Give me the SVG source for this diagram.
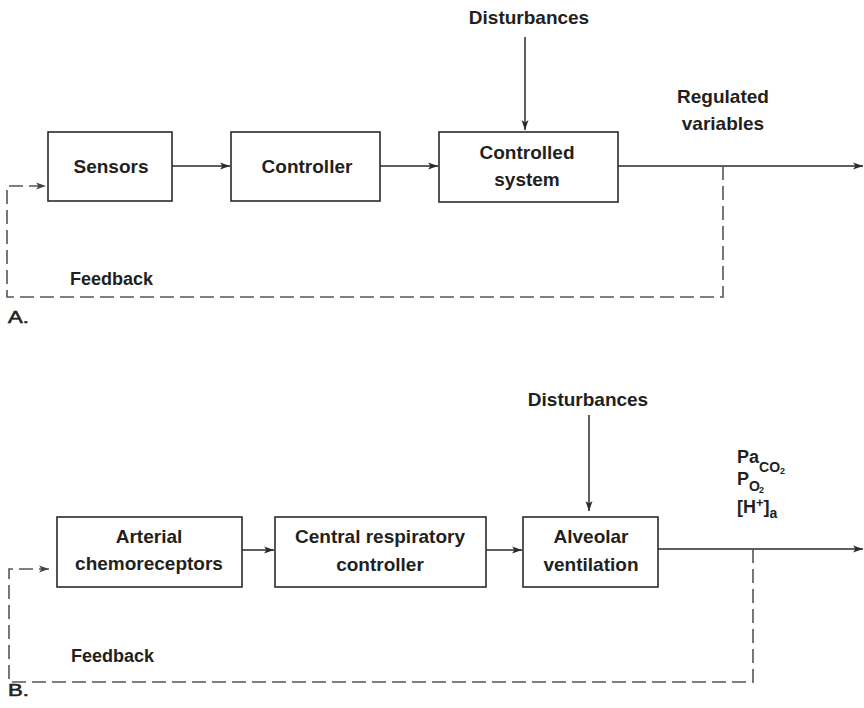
<svg xmlns="http://www.w3.org/2000/svg" width="864" height="708" viewBox="0 0 864 708">
<style>
  .box{fill:#fff;stroke:#2a2a2a;stroke-width:1.6}
  .t{font-family:"Liberation Sans",Arial,sans-serif;font-weight:bold;font-size:19px;fill:#231f20;text-anchor:middle}
  .tl{font-family:"Liberation Sans",Arial,sans-serif;font-weight:bold;font-size:18px;fill:#231f20}
  .pl{font-family:"Liberation Sans",Arial,sans-serif;font-weight:normal;font-size:17px;fill:#231f20;stroke:#231f20;stroke-width:0.6}
  .ln{fill:none;stroke:#2a2a2a;stroke-width:1.5}
  .fb{fill:none;stroke:#555;stroke-width:1.6;stroke-dasharray:14 6}
</style>
<defs>
  <marker id="ah" viewBox="0 0 10 8" refX="10" refY="4" markerWidth="10" markerHeight="8" markerUnits="userSpaceOnUse" orient="auto">
    <path d="M0,0.5 L10,4 L0,7.5 L2.5,4 Z" fill="#2a2a2a"/>
  </marker>
  <marker id="ahg" viewBox="0 0 10 8" refX="10" refY="4" markerWidth="10" markerHeight="8" markerUnits="userSpaceOnUse" orient="auto">
    <path d="M0,0.5 L10,4 L0,7.5 L2.5,4 Z" fill="#444"/>
  </marker>
</defs>

<!-- Panel A -->
<g id="a-sensors">
  <rect class="box" x="48" y="132" width="124" height="69"/>
  <text class="t" x="111" y="173">Sensors</text>
</g>
<g id="a-controller">
  <rect class="box" x="231" y="132" width="149" height="69"/>
  <text class="t" x="307" y="173">Controller</text>
</g>
<g id="a-system">
  <rect class="box" x="439" y="132" width="179" height="70"/>
  <text class="t" x="527" y="159">Controlled</text>
  <text class="t" x="527" y="186">system</text>
</g>
<g id="a-labels">
  <text class="t" x="529" y="24">Disturbances</text>
  <text class="t" x="723" y="103">Regulated</text>
  <text class="t" x="723" y="130">variables</text>
  <text class="tl" x="70" y="285">Feedback</text>
  <text class="pl" transform="translate(8,323) scale(1.3,1)">A.</text>
</g>

<!-- Panel B -->
<g id="b-chemo">
  <rect class="box" x="57" y="517" width="185" height="70"/>
  <text class="t" x="149" y="543">Arterial</text>
  <text class="t" x="149" y="570">chemoreceptors</text>
</g>
<g id="b-central">
  <rect class="box" x="275" y="517" width="211" height="70"/>
  <text class="t" x="380" y="543">Central respiratory</text>
  <text class="t" x="380" y="571">controller</text>
</g>
<g id="b-alveolar">
  <rect class="box" x="523" y="517" width="135" height="70"/>
  <text class="t" x="591" y="543">Alveolar</text>
  <text class="t" x="591" y="571">ventilation</text>
</g>
<g id="b-labels">
  <text class="t" x="588" y="406">Disturbances</text>
  <text class="tl" x="737" y="463" font-size="19">Pa<tspan font-size="14" dy="9">CO</tspan><tspan font-size="9" dy="2">2</tspan></text>
  <text class="tl" x="737" y="485" font-size="19">P<tspan font-size="14" dy="6">O</tspan><tspan font-size="9" dx="-1" dy="2">2</tspan></text>
  <text class="tl" x="737" y="513" font-size="19">[H<tspan font-size="13" dy="-6">+</tspan><tspan dy="6">]</tspan><tspan font-size="14" dy="5">a</tspan></text>
  <text class="tl" x="71" y="662">Feedback</text>
  <text class="pl" transform="translate(8,696) scale(1.3,1)">B.</text>
</g>

<g id="connectors">
  <!-- Panel A -->
  <line class="ln" x1="172" y1="166" x2="230" y2="166" marker-end="url(#ah)"/>
  <line class="ln" x1="380" y1="166" x2="438" y2="166" marker-end="url(#ah)"/>
  <line class="ln" x1="525" y1="37" x2="525" y2="130" marker-end="url(#ah)"/>
  <line class="ln" x1="618" y1="166" x2="863" y2="166" marker-end="url(#ah)"/>
  <path class="fb" d="M723,166 V297 H7 V186 H46" marker-end="url(#ahg)"/>
  <!-- Panel B -->
  <line class="ln" x1="242" y1="550" x2="274" y2="550" marker-end="url(#ah)"/>
  <line class="ln" x1="486" y1="550" x2="522" y2="550" marker-end="url(#ah)"/>
  <line class="ln" x1="589" y1="415" x2="589" y2="511" marker-end="url(#ah)"/>
  <line class="ln" x1="658" y1="549" x2="863" y2="549" marker-end="url(#ah)"/>
  <path class="fb" d="M753,549 V682 H9 V569 H49" marker-end="url(#ahg)"/>
</g>
</svg>
